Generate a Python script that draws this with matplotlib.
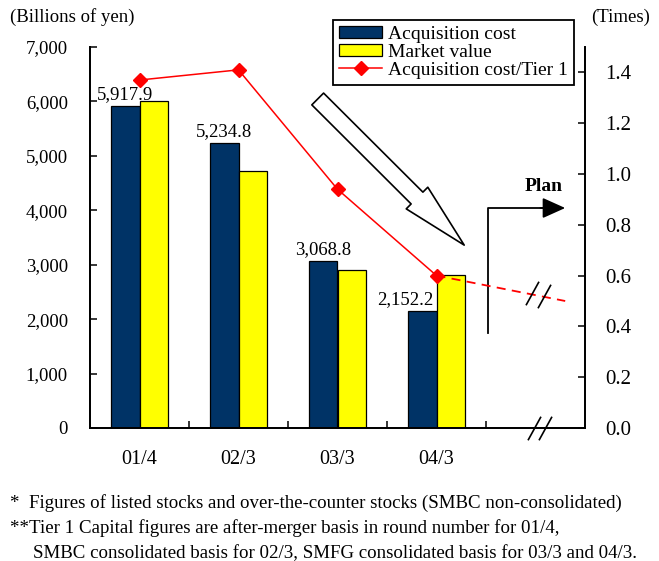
import numpy as np
import matplotlib.pyplot as plt
from matplotlib.ticker import FuncFormatter, FixedLocator

plt.rcParams['font.family'] = ['Liberation Serif', 'DejaVu Serif']

# data
periods = ['01/4', '02/3', '03/3', '04/3']
acq_cost = [5917.9, 5234.8, 3068.8, 2152.2]
market_value = [6000, 4725, 2900, 2810]
ratio_tier1 = [1.37, 1.41, 0.94, 0.60]
plan_x = [3, 4.3]
plan_ratio = [0.60, 0.50]

navy = '#003366'
yellow = '#ffff00'
red = '#ff0000'

fig = plt.figure(figsize=(6.59, 5.61), dpi=100)
ax = fig.add_axes([90/659, 133/561, 495/659, 381/561])
ax2 = ax.twinx()

x = np.arange(len(periods))
w = 0.285
b1 = ax.bar(x - w/2, acq_cost, w, color=navy, edgecolor='black', linewidth=0.9,
            label='Acquisition cost', zorder=2)
b2 = ax.bar(x + w/2, market_value, w, color=yellow, edgecolor='black', linewidth=0.9,
            label='Market value', zorder=2)

# value labels above acquisition cost bars
for i, v in enumerate(acq_cost):
    dx = -12 if i == 3 else 0
    ax.annotate(f'{v:,.1f}', (x[i] - w/2, v), xytext=(dx, 2), textcoords='offset points',
                ha='center', va='bottom', fontsize=13.5)

ax.set_xlim(-0.5, 4.5)
ax.set_ylim(0, 7000)
ax.set_yticks(np.arange(0, 7001, 1000))
ax.yaxis.set_major_formatter(FuncFormatter(lambda v, p: f'{v:,.0f}'))
ax.set_xticks(x)
ax.set_xticklabels(periods)
ax.xaxis.set_minor_locator(FixedLocator([0.5, 1.5, 2.5, 3.5]))
ax.tick_params(axis='x', which='major', length=0, pad=15.5, labelsize=14.5)
ax.tick_params(axis='x', which='minor', direction='in', length=5, width=1.1)
ax.tick_params(axis='y', direction='in', length=5, width=1.1, pad=16, labelsize=13.5)

ax2.set_ylim(0, 1.5)
ax2.set_yticks(np.arange(0, 1.41, 0.2))
ax2.yaxis.set_major_formatter(FuncFormatter(lambda v, p: f'{v:.1f}'))
ax2.tick_params(axis='y', direction='in', length=5, width=1.1, pad=14.5, labelsize=15)

for a in (ax, ax2):
    a.spines['top'].set_visible(False)
    for s in ('left', 'right', 'bottom'):
        a.spines[s].set_linewidth(1.3)

line, = ax2.plot(x, ratio_tier1, color=red, lw=1.1, marker='D', ms=7,
                 label='Acquisition cost/Tier 1', zorder=3)
ax2.plot(plan_x, plan_ratio, color=red, lw=1.3, ls=(0, (5, 3.5)), zorder=3)

# break marks
slash = [(-0.55, -1), (0.55, 1)]
ax2.plot([3.96, 4.09], [0.53, 0.52], ls='none', marker=slash, ms=17, mew=1.2,
         color='black', zorder=4)
ax2.plot([3.98, 4.10], [0, 0], ls='none', marker=slash, ms=17, mew=1.2,
         color='black', clip_on=False, zorder=4)

# big hollow arrow
ax.annotate('', xy=(3.28, 3360), xytext=(1.80, 6045),
            arrowprops=dict(arrowstyle='simple,head_length=48,head_width=22,tail_width=12',
                            mutation_scale=1, fc='white', ec='black', lw=1.2,
                            shrinkA=0, shrinkB=0))

# plan bent arrow
ax.plot([3.52, 3.52, 4.1], [1745, 4042, 4042], color='black', lw=1.3)
ax.annotate('', xy=(4.30, 4042), xytext=(4.05, 4042),
            arrowprops=dict(arrowstyle='-|>,head_length=1.0,head_width=0.45',
                            mutation_scale=14, fc='black', ec='black', lw=1.3,
                            shrinkA=0, shrinkB=0))
ax.text(4.08, 4446, 'Plan', ha='center', va='center', fontsize=14, fontweight='bold')

leg = ax2.legend([b1, b2, line], ['Acquisition cost', 'Market value', 'Acquisition cost/Tier 1'],
                 loc='upper right', bbox_to_anchor=(574/659, 1 - 20/561),
                 bbox_transform=fig.transFigure, fontsize=14, frameon=True, fancybox=False,
                 framealpha=1, edgecolor='black', borderaxespad=0, borderpad=0.3,
                 labelspacing=0.05, handlelength=2.25, handletextpad=0.3, handleheight=0.6)
leg.get_frame().set_linewidth(1.3)

fig.text(10/659, 1 - 17/561, '(Billions of yen)', ha='left', va='center', fontsize=13.5)
fig.text(650/659, 1 - 17/561, '(Times)', ha='right', va='center', fontsize=13.5)

fig.text(10/659, 1 - 508/561,
         '*  Figures of listed stocks and over-the-counter stocks (SMBC non-consolidated)',
         ha='left', va='baseline', fontsize=13.6)
fig.text(10/659, 1 - 533/561,
         '**Tier 1 Capital figures are after-merger basis in round number for 01/4,',
         ha='left', va='baseline', fontsize=13.6)
fig.text(33/659, 1 - 558/561,
         'SMBC consolidated basis for 02/3, SMFG consolidated basis for 03/3 and 04/3.',
         ha='left', va='baseline', fontsize=13.6)

fig.savefig('out.png', dpi=100)
